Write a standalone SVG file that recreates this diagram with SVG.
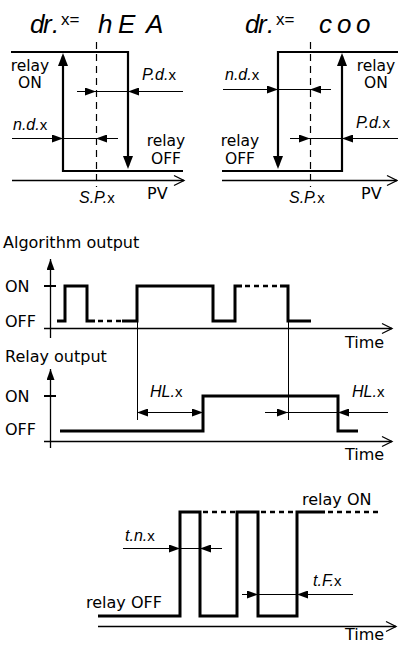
<svg xmlns="http://www.w3.org/2000/svg" width="398" height="645" viewBox="0 0 398 645">
<style>
.thick{stroke:#000;stroke-width:2.2;fill:none}
.wave{stroke:#000;stroke-width:3;fill:none}
.thin{stroke:#000;stroke-width:1;fill:none}
.axis{stroke:#000;stroke-width:1.3;fill:none}
.dash{stroke:#000;stroke-width:1.2;stroke-dasharray:7 5;fill:none}
.wdash{stroke:#000;stroke-width:2.5;stroke-dasharray:5 4;fill:none}
.tick{stroke:#000;stroke-width:2;fill:none}
text{fill:#000}
.lbl{font-family:"DejaVu Sans","Liberation Sans",sans-serif;font-size:16px}
.stk{font-family:"DejaVu Sans","Liberation Sans",sans-serif;font-size:15.5px}
.seg{font-family:"Liberation Sans",Arial,sans-serif;font-style:italic;font-size:16px}
.title{font-family:"Liberation Sans",Arial,sans-serif;font-style:italic;font-size:26px}
.sx{font-family:"Liberation Sans",Arial,sans-serif;font-style:normal;font-size:15px}
.tx{font-family:"Liberation Sans",Arial,sans-serif;font-style:normal;font-size:17px}
</style>
<defs>
<marker id="ah" viewBox="0 0 11 8" refX="11" refY="4" markerWidth="11" markerHeight="8" orient="auto-start-reverse" markerUnits="userSpaceOnUse"><path d="M0,0 L11,4 L0,8 z" fill="#000"/></marker>
<marker id="ahb" viewBox="0 0 13 10" refX="10" refY="5" markerWidth="13" markerHeight="10" orient="auto" markerUnits="userSpaceOnUse"><path d="M0,0 L13,5 L0,10 z" fill="#000"/></marker>
<marker id="chev" viewBox="-2 -2 14 14" refX="10" refY="5" markerWidth="14" markerHeight="14" orient="auto" markerUnits="userSpaceOnUse"><path d="M0,0 L10,5 L0,10" fill="none" stroke="#000" stroke-width="1.3"/></marker>
</defs>

<g id="heating">
  <text class="title" y="33"><tspan x="30">d</tspan><tspan x="43">r</tspan><tspan x="52">.</tspan><tspan class="tx" x="61" y="25">x=</tspan><tspan x="98" y="33">h</tspan><tspan x="118">E</tspan><tspan x="146">A</tspan></text>
  <path class="dash" d="M96.5,42 V187"/>
  <path class="thick" d="M11,52 H128 V166" marker-end="url(#ahb)"/>
  <path class="thick" d="M183,171 H63 V56" marker-end="url(#ahb)"/>
  <path class="axis" d="M12,180.5 H184" marker-end="url(#chev)"/>
  <text class="stk" x="30" y="71" text-anchor="middle">relay</text>
  <text class="stk" x="30" y="88" text-anchor="middle">ON</text>
  <text class="stk" x="166" y="146" text-anchor="middle">relay</text>
  <text class="stk" x="166" y="164" text-anchor="middle">OFF</text>
  <text class="seg" x="142" y="80">P.d.<tspan class="sx">x</tspan></text>
  <text class="seg" x="13" y="130">n.d.<tspan class="sx">x</tspan></text>
  <text class="seg" x="79" y="203">S.P.<tspan class="sx">x</tspan></text>
  <text class="lbl" x="147" y="199">PV</text>
</g>

<g id="cooling">
  <text class="title" y="33"><tspan x="245">d</tspan><tspan x="258">r</tspan><tspan x="267">.</tspan><tspan class="tx" x="276" y="25">x=</tspan><tspan x="319" y="33">c</tspan><tspan x="337">o</tspan><tspan x="356">o</tspan></text>
  <path class="dash" d="M310.5,42 V187"/>
  <path class="thick" d="M398,52 H278 V166" marker-end="url(#ahb)"/>
  <path class="thick" d="M222,171 H342 V56" marker-end="url(#ahb)"/>
  <path class="axis" d="M222,180.5 H397" marker-end="url(#chev)"/>
  <text class="stk" x="376" y="71" text-anchor="middle">relay</text>
  <text class="stk" x="376" y="88" text-anchor="middle">ON</text>
  <text class="stk" x="240" y="146" text-anchor="middle">relay</text>
  <text class="stk" x="240" y="164" text-anchor="middle">OFF</text>
  <text class="seg" x="225" y="80">n.d.<tspan class="sx">x</tspan></text>
  <text class="seg" x="356" y="128">P.d.<tspan class="sx">x</tspan></text>
  <text class="seg" x="289" y="203">S.P.<tspan class="sx">x</tspan></text>
  <text class="lbl" x="361" y="199">PV</text>
</g>

<g id="algorithm-output">
  <text class="lbl" x="3" y="248">Algorithm output</text>
  <path class="axis" d="M50.5,338 V259" marker-end="url(#ah)"/>
  <path class="tick" d="M44,286 H56"/>
  <text class="lbl" x="5" y="292">ON</text>
  <text class="lbl" x="5" y="327">OFF</text>
  <path class="axis" d="M44,328.5 H392" marker-end="url(#chev)"/>
  <text class="lbl" x="345" y="348">Time</text>
  <path class="wave" d="M57,321 H65 V286 H87 V321 H95"/>
  <path class="wdash" d="M98,321 H121"/>
  <path class="wave" d="M122,321 H137 V286 H213 V321 H235 V286 H242"/>
  <path class="wdash" d="M245,286 H279"/>
  <path class="wave" d="M280,286 H288 V321 H311"/>
</g>

<g id="relay-output">
  <text class="lbl" x="5" y="362">Relay output</text>
  <path class="axis" d="M50.5,448 V369" marker-end="url(#ah)"/>
  <path class="tick" d="M44,396 H56"/>
  <text class="lbl" x="5" y="402">ON</text>
  <text class="lbl" x="5" y="435">OFF</text>
  <path class="axis" d="M44,441.5 H392" marker-end="url(#chev)"/>
  <text class="lbl" x="345" y="460">Time</text>
  <path class="wave" d="M60,431 H203 V396 H338 V431 H358"/>
  <text class="seg" x="150" y="397">HL.<tspan class="sx">x</tspan></text>
  <text class="seg" x="352" y="397">HL.<tspan class="sx">x</tspan></text>
</g>

<g id="time-diagram">
  <text class="lbl" x="302" y="505">relay ON</text>
  <text class="lbl" x="86" y="608">relay OFF</text>
  <path class="wave" d="M98,616 H180 V512 H200 V616 H237 V512 H258 V616 H297 V512 H325"/>
  <path class="wdash" d="M203,512 H236 M261,512 H296 M328,512 H378"/>
  <path class="axis" d="M98,626.5 H396" marker-end="url(#chev)"/>
  <text class="lbl" x="345" y="640">Time</text>
  <text class="seg" x="125" y="541">t.n.<tspan class="sx">x</tspan></text>
  <text class="seg" x="313" y="586">t.F.<tspan class="sx">x</tspan></text>
</g>

<g id="connectors">
  <path class="thin" d="M77,91.5 H96" marker-end="url(#ah)"/>
  <path class="thin" d="M96,91.5 H128"/>
  <path class="thin" d="M183,91.5 H128" marker-end="url(#ah)"/>
  <path class="thin" d="M12,138.5 H63" marker-end="url(#ah)"/>
  <path class="thin" d="M63,138.5 H96"/>
  <path class="thin" d="M118,138.5 H96" marker-end="url(#ah)"/>
  <path class="thin" d="M223,89.5 H278" marker-end="url(#ah)"/>
  <path class="thin" d="M278,89.5 H310"/>
  <path class="thin" d="M331,89.5 H310" marker-end="url(#ah)"/>
  <path class="thin" d="M290,138.5 H310" marker-end="url(#ah)"/>
  <path class="thin" d="M310,138.5 H342"/>
  <path class="thin" d="M398,138.5 H342" marker-end="url(#ah)"/>
  <path class="thin" d="M137.5,321 V420"/>
  <path class="thin" d="M288.5,321 V420"/>
  <path class="thin" d="M137,412.5 H203" marker-start="url(#ah)" marker-end="url(#ah)"/>
  <path class="thin" d="M265,412.5 H288" marker-end="url(#ah)"/>
  <path class="thin" d="M288,412.5 H338"/>
  <path class="thin" d="M388,412.5 H338" marker-end="url(#ah)"/>
  <path class="thin" d="M123,548.5 H180" marker-end="url(#ah)"/>
  <path class="thin" d="M180,548.5 H200"/>
  <path class="thin" d="M222,548.5 H200" marker-end="url(#ah)"/>
  <path class="thin" d="M242,594.5 H258" marker-end="url(#ah)"/>
  <path class="thin" d="M258,594.5 H297"/>
  <path class="thin" d="M353,594.5 H297" marker-end="url(#ah)"/>
</g>
</svg>
